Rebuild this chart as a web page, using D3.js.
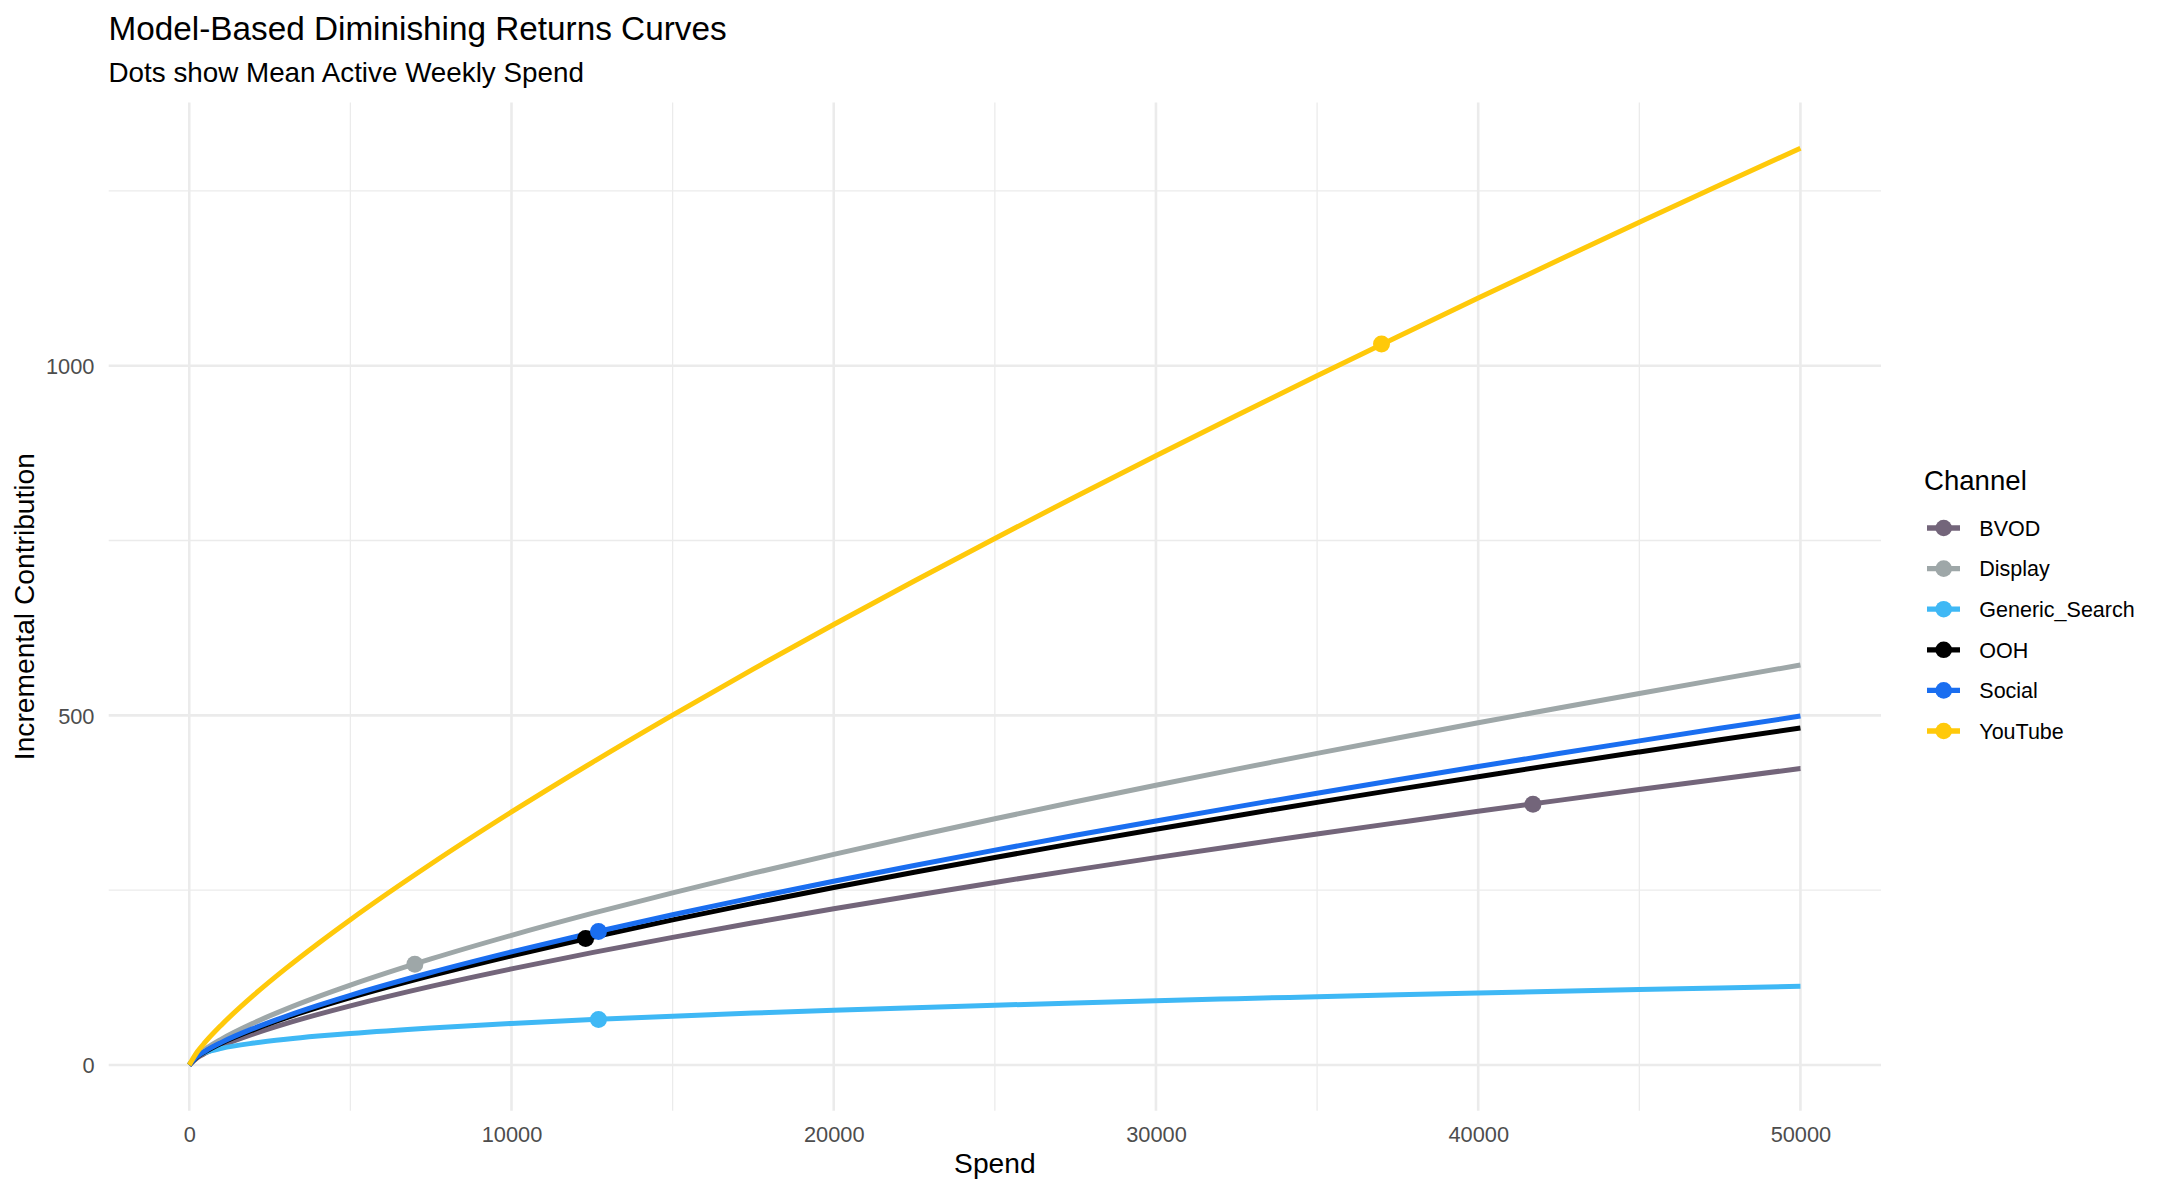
<!DOCTYPE html>
<html>
<head>
<meta charset="utf-8">
<script src="https://cdn.jsdelivr.net/npm/d3@7"></script>
<style>
  body { margin: 0; background: #fff; }
  svg { display: block; font-family: "Liberation Sans", Arial, sans-serif; }
</style>
</head>
<body>
<svg id="chart"></svg>
<script>
// spend grid the curves were read at
var spend = [0, 250, 500, 1000, 2000, 3000, 4000, 5000, 7500, 10000, 12500, 15000, 17500,
  20000, 22500, 25000, 27500, 30000, 32500, 35000, 37500, 40000, 42500, 45000, 47500, 50000];

var channels = ['BVOD', 'Display', 'Generic_Search', 'OOH', 'Social', 'YouTube'];

var bvod = [0, 10.4, 16.9, 27.4, 44.5, 59.2, 72.4, 84.6, 112.4, 137.4, 160.7, 182.5, 203.3,
  223.3, 242.4, 261.0, 279.0, 296.5, 313.6, 330.3, 346.6, 362.7, 378.4, 393.8, 409.0, 424];
var display = [0, 14.0, 22.8, 37.0, 60.1, 79.8, 97.6, 114.1, 151.6, 185.4, 216.7, 246.2, 274.3,
  301.2, 327.1, 352.1, 376.4, 400.0, 423.1, 445.6, 467.6, 489.3, 510.5, 531.3, 551.8, 572];
var genericSearch = [0, 13.7, 18.1, 23.8, 31.3, 36.8, 41.3, 45.1, 53.0, 59.4, 64.9, 69.8, 74.2,
  78.2, 81.9, 85.4, 88.7, 91.9, 94.8, 97.6, 100.4, 103.0, 105.5, 107.9, 110.2, 112.5];
var ooh = [0, 11.8, 19.2, 31.2, 50.6, 67.3, 82.3, 96.2, 127.7, 156.2, 182.6, 207.5, 231.1,
  253.8, 275.6, 296.7, 317.2, 337.1, 356.5, 375.5, 394.1, 412.3, 430.2, 447.7, 465.0, 482];
var social = [0, 12.2, 19.9, 32.3, 52.4, 69.6, 85.2, 99.6, 132.2, 161.7, 189.1, 214.8, 239.3,
  262.8, 285.3, 307.2, 328.4, 349.0, 369.1, 388.7, 408.0, 426.8, 445.3, 463.5, 481.4, 499];
var youtube = [0, 18.9, 32.9, 57.3, 99.8, 138.1, 173.8, 207.8, 287.4, 361.8, 432.5, 500.4, 566.1,
  629.9, 692.1, 753.0, 812.7, 871.2, 928.8, 985.5, 1041.4, 1096.7, 1151.2, 1205.0, 1258.3, 1311];

// mean active weekly spend and the contribution there (the dots)
var meanSpend = [41700, 7000, 12700, 12300, 12700, 37000];
var meanContribution = [373, 144, 65, 181, 191, 1031];

var xTicks = [0, 10000, 20000, 30000, 40000, 50000];
var xMinor = [5000, 15000, 25000, 35000, 45000];
var yTicks = [0, 500, 1000];
var yMinor = [250, 750, 1250];

var colours = ['#73657a', '#9ea7a8', '#3fb8f5', '#000000', '#1a6ef0', '#ffc90a'];

var W = 2161, H = 1193,
  PANEL = { left: 108.7, right: 1881, top: 102.4, bottom: 1110.8 };

var svg = d3.select('#chart').attr('width', W).attr('height', H);
svg.append('rect').attr('width', W).attr('height', H).attr('fill', '#fff');

var seriesValues = [bvod, display, genericSearch, ooh, social, youtube];
var series = channels.map(function(name, i) {
  return {
    name: name,
    colour: colours[i],
    points: spend.map(function(s, j) { return { x: s, y: seriesValues[i][j] }; })
  };
});

// ggplot-style 5% expansion
var xExt = d3.extent(spend), yMax = d3.max(youtube);
var xPad = (xExt[1] - xExt[0]) * 0.05, yPad = yMax * 0.05;

var x = d3.scaleLinear()
  .domain([xExt[0] - xPad, xExt[1] + xPad])
  .range([PANEL.left, PANEL.right]);

var y = d3.scaleLinear()
  .domain([-yPad, yMax + yPad])
  .range([PANEL.bottom, PANEL.top]);

var grid = svg.append('g');

// minor grid
grid.selectAll('.vminor').data(xMinor).enter().append('line')
  .attr('x1', x).attr('x2', x).attr('y1', PANEL.top).attr('y2', PANEL.bottom)
  .attr('stroke', '#ebebeb').attr('stroke-width', 1.3);
grid.selectAll('.hminor').data(yMinor).enter().append('line')
  .attr('y1', y).attr('y2', y).attr('x1', PANEL.left).attr('x2', PANEL.right)
  .attr('stroke', '#ebebeb').attr('stroke-width', 1.3);

// major grid
grid.selectAll('.vmajor').data(xTicks).enter().append('line')
  .attr('x1', x).attr('x2', x).attr('y1', PANEL.top).attr('y2', PANEL.bottom)
  .attr('stroke', '#ebebeb').attr('stroke-width', 2.6);
grid.selectAll('.hmajor').data(yTicks).enter().append('line')
  .attr('y1', y).attr('y2', y).attr('x1', PANEL.left).attr('x2', PANEL.right)
  .attr('stroke', '#ebebeb').attr('stroke-width', 2.6);

// axes, labels only
var xAxis = d3.axisBottom(x).tickValues(xTicks).tickSize(0).tickPadding(0)
  .tickFormat(d3.format('d'));
var yAxis = d3.axisLeft(y).tickValues(yTicks).tickSize(0).tickPadding(0)
  .tickFormat(d3.format('d'));

var gx = svg.append('g')
  .attr('transform', 'translate(0,' + PANEL.bottom + ')')
  .call(xAxis);
gx.select('.domain').remove();
gx.selectAll('text')
  .attr('y', 31.5).attr('dy', null)
  .attr('fill', '#4d4d4d').attr('font-size', 21.8)
  .attr('font-family', '"Liberation Sans", Arial, sans-serif');

var gy = svg.append('g')
  .attr('transform', 'translate(94.5,0)')
  .call(yAxis);
gy.select('.domain').remove();
gy.selectAll('text')
  .attr('x', 0).attr('dy', '0.36em')
  .attr('fill', '#4d4d4d').attr('font-size', 21.8)
  .attr('font-family', '"Liberation Sans", Arial, sans-serif');

// curves
var line = d3.line()
  .x(function(d) { return x(d.x); })
  .y(function(d) { return y(d.y); })
  .curve(d3.curveMonotoneX);

svg.append('g').selectAll('path').data(series).enter().append('path')
  .attr('d', function(d) { return line(d.points); })
  .attr('fill', 'none')
  .attr('stroke', function(d) { return d.colour; })
  .attr('stroke-width', 5)
  .attr('stroke-linejoin', 'round');

// mean spend dots
svg.append('g').selectAll('circle').data(channels).enter().append('circle')
  .attr('cx', function(d, i) { return x(meanSpend[i]); })
  .attr('cy', function(d, i) { return y(meanContribution[i]); })
  .attr('r', 8.5)
  .attr('fill', function(d, i) { return colours[i]; });

// titles
svg.append('text').attr('x', 108.5).attr('y', 39.5)
  .attr('font-size', 33.3).attr('fill', '#000')
  .text('Model-Based Diminishing Returns Curves');
svg.append('text').attr('x', 108.5).attr('y', 81.7)
  .attr('font-size', 27.8).attr('fill', '#000')
  .text('Dots show Mean Active Weekly Spend');

svg.append('text')
  .attr('x', (PANEL.left + PANEL.right) / 2).attr('y', 1173)
  .attr('text-anchor', 'middle').attr('font-size', 28.2)
  .text('Spend');

svg.append('text')
  .attr('transform', 'translate(34,' + (PANEL.top + PANEL.bottom) / 2 + ') rotate(-90)')
  .attr('text-anchor', 'middle').attr('font-size', 28.2)
  .text('Incremental Contribution');

// legend
var legend = svg.append('g').attr('transform', 'translate(1924,0)');
legend.append('text').attr('x', 0).attr('y', 490)
  .attr('font-size', 27.6).text('Channel');

var rows = legend.selectAll('.row').data(channels).enter().append('g')
  .attr('transform', function(d, i) { return 'translate(0,' + (528 + i * 40.6) + ')'; });
rows.append('line')
  .attr('x1', 3).attr('x2', 36).attr('y1', 0).attr('y2', 0)
  .attr('stroke', function(d, i) { return colours[i]; })
  .attr('stroke-width', 5.3);
rows.append('circle')
  .attr('cx', 19.7).attr('cy', 0).attr('r', 8.3)
  .attr('fill', function(d, i) { return colours[i]; });
rows.append('text')
  .attr('x', 55.3).attr('dy', '0.36em')
  .attr('font-size', 21.5)
  .text(function(d) { return d; });
</script>
</body>
</html>
